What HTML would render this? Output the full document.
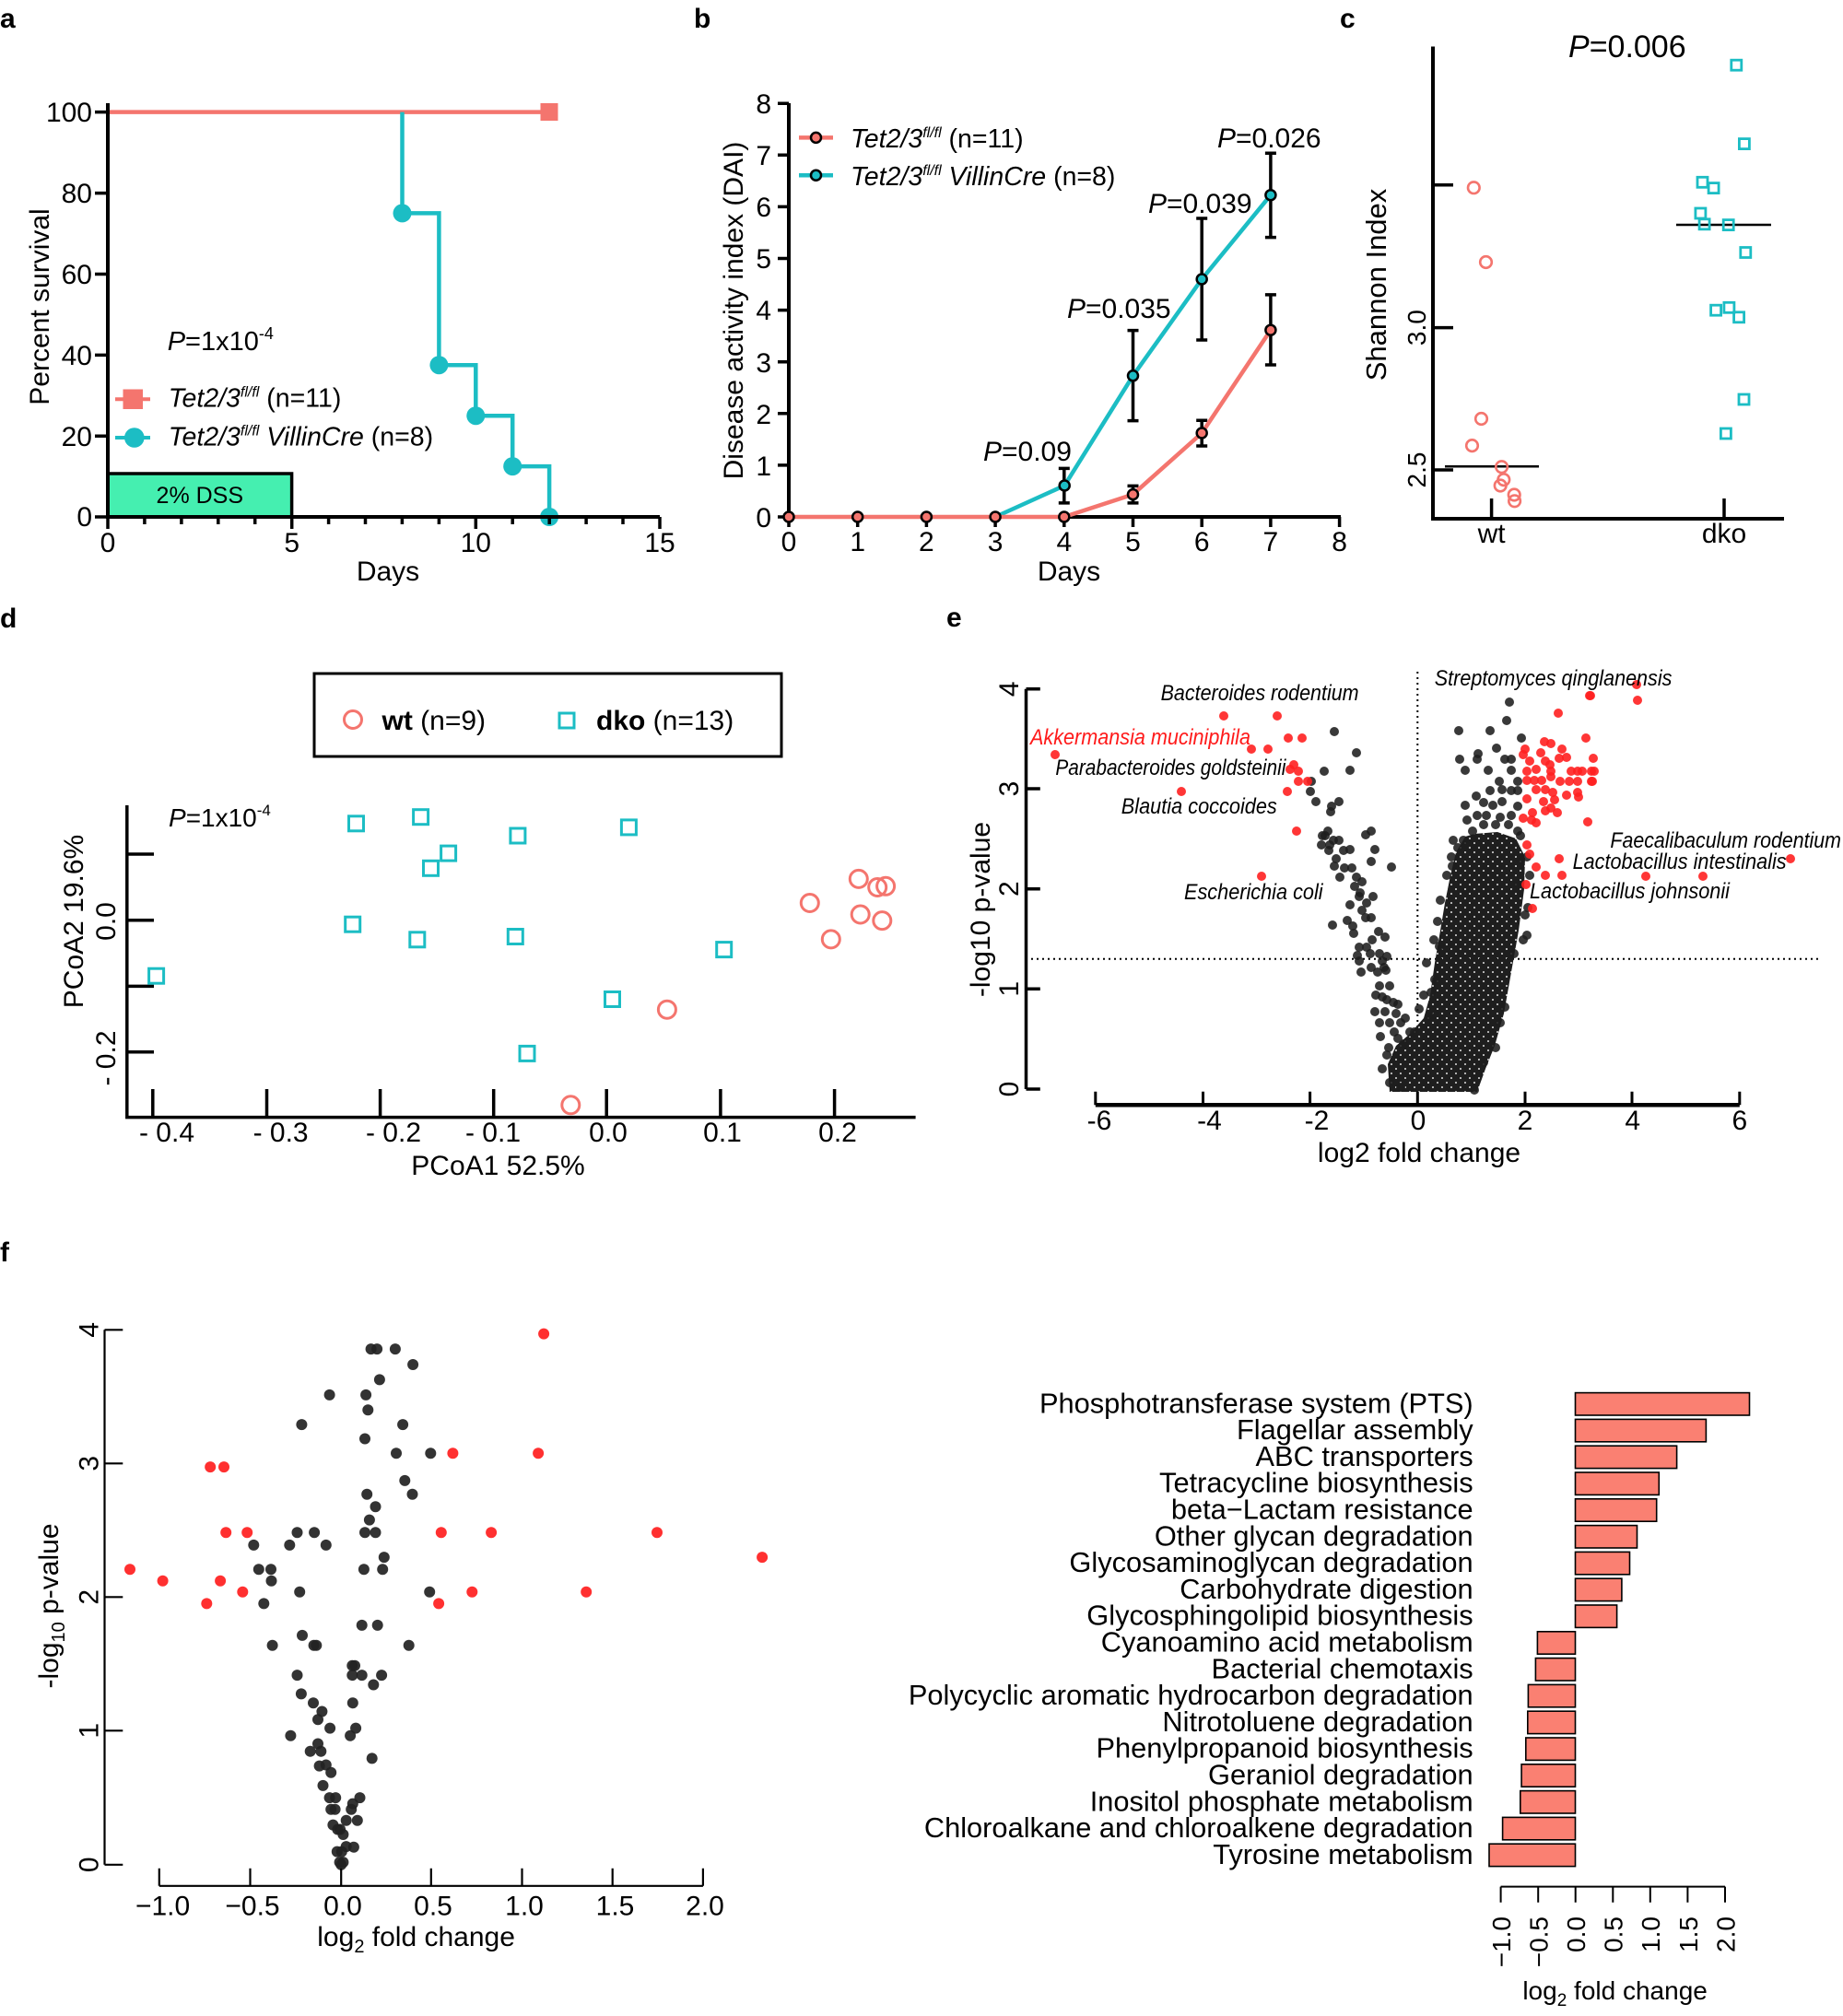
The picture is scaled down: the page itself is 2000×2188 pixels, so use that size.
<!DOCTYPE html>
<html><head><meta charset="utf-8"><style>
html,body{margin:0;padding:0;background:#fff;}
svg{display:block;font-family:"Liberation Sans",Arial,sans-serif;}
</style></head><body>
<svg width="2000" height="2188" viewBox="0 0 2000 2188" xmlns="http://www.w3.org/2000/svg">
<defs>
<pattern id="dp" width="10" height="10" patternUnits="userSpaceOnUse">
<circle cx="5" cy="5" r="4.3" fill="#1e1e1e"/>
<circle cx="0" cy="0" r="4.3" fill="#1e1e1e"/><circle cx="10" cy="0" r="4.3" fill="#1e1e1e"/>
<circle cx="0" cy="10" r="4.3" fill="#1e1e1e"/><circle cx="10" cy="10" r="4.3" fill="#1e1e1e"/>
</pattern>
</defs>
<rect width="2000" height="2188" fill="#fff"/>

<!-- ================= PANEL A ================= -->
<text x="0" y="30" font-size="30" font-weight="bold">a</text>
<rect x="117" y="514" width="199.6" height="47" fill="#45EFB0" stroke="#000" stroke-width="3.5"/>
<text x="216.8" y="546" font-size="25" text-anchor="middle">2% DSS</text>
<line x1="117" y1="121.6" x2="596" y2="121.6" stroke="#F4756E" stroke-width="4.5"/>
<rect x="586.5" y="112" width="19" height="19" fill="#F4756E"/>
<path d="M436.5 121.6V231.4H476.4V396.2H516.3V451.2H556.2V506.1H596.1V561" fill="none" stroke="#1CBDC4" stroke-width="4.5"/>
<g fill="#1CBDC4">
<circle cx="436.5" cy="231.4" r="10"/><circle cx="476.4" cy="396.2" r="10"/><circle cx="516.3" cy="451.2" r="10"/><circle cx="556.2" cy="506.1" r="10"/><circle cx="596.1" cy="561" r="10"/>
</g>
<path d="M117 112V561H716" fill="none" stroke="#000" stroke-width="4"/>
<path d="M103 121.6H117M103 209.6H117M103 297.5H117M103 385.4H117M103 473.3H117M103 561H117" stroke="#000" stroke-width="3.5"/>
<path d="M117 561V574M156.9 561V569M196.9 561V569M236.8 561V569M276.7 561V569M316.7 561V574M356.6 561V569M396.5 561V569M436.4 561V569M476.4 561V569M516.3 561V574M556.2 561V569M596.2 561V569M636.1 561V569M676 561V569M716 561V574" stroke="#000" stroke-width="3.5"/>
<g font-size="30" text-anchor="end">
<text x="100" y="132">100</text><text x="100" y="220">80</text><text x="100" y="308">60</text><text x="100" y="396">40</text><text x="100" y="484">20</text><text x="100" y="571">0</text>
</g>
<g font-size="30" text-anchor="middle">
<text x="117" y="599">0</text><text x="316.7" y="599">5</text><text x="516.3" y="599">10</text><text x="716" y="599">15</text>
<text x="421" y="630">Days</text>
<text transform="translate(53,333) rotate(-90)">Percent survival</text>
</g>
<text x="181.7" y="380" font-size="29"><tspan font-style="italic">P</tspan>=1x10<tspan font-size="18" dy="-12">-4</tspan></text>
<line x1="125" y1="433.3" x2="163" y2="433.3" stroke="#F4756E" stroke-width="4"/>
<rect x="133.5" y="422.5" width="21.5" height="21.5" fill="#F4756E"/>
<text x="182.7" y="441.7" font-size="28.5"><tspan font-style="italic">Tet2/3</tspan><tspan font-size="16" font-style="italic" dy="-11">fl/fl</tspan><tspan dy="11"> (n=11)</tspan></text>
<line x1="125" y1="475" x2="163" y2="475" stroke="#1CBDC4" stroke-width="4"/>
<circle cx="145.8" cy="475" r="10.8" fill="#1CBDC4"/>
<text x="182.7" y="483.3" font-size="28.5"><tspan font-style="italic">Tet2/3</tspan><tspan font-size="16" font-style="italic" dy="-11">fl/fl</tspan><tspan dy="11" font-style="italic"> VillinCre</tspan><tspan> (n=8)</tspan></text>

<!-- ================= PANEL B ================= -->
<text x="753" y="30" font-size="30" font-weight="bold">b</text>
<path d="M856 112V561H1455" fill="none" stroke="#000" stroke-width="4"/>
<path d="M844 561H856M844 504.9H856M844 448.8H856M844 392.7H856M844 336.6H856M844 280.5H856M844 224.4H856M844 168.3H856M844 112.2H856" stroke="#000" stroke-width="3.5"/>
<path d="M856 561V572M930.7 561V572M1005.4 561V572M1080.1 561V572M1154.8 561V572M1229.5 561V572M1304.2 561V572M1378.9 561V572M1453.6 561V572" stroke="#000" stroke-width="3.5"/>
<g font-size="30" text-anchor="end">
<text x="837" y="572">0</text><text x="837" y="516">1</text><text x="837" y="460">2</text><text x="837" y="404">3</text><text x="837" y="347">4</text><text x="837" y="291">5</text><text x="837" y="235">6</text><text x="837" y="179">7</text><text x="837" y="123">8</text>
</g>
<g font-size="30" text-anchor="middle">
<text x="856" y="598">0</text><text x="930.7" y="598">1</text><text x="1005.4" y="598">2</text><text x="1080.1" y="598">3</text><text x="1154.8" y="598">4</text><text x="1229.5" y="598">5</text><text x="1304.2" y="598">6</text><text x="1378.9" y="598">7</text><text x="1453.6" y="598">8</text>
<text x="1160" y="630">Days</text>
<text transform="translate(806,337) rotate(-90)">Disease activity index (DAI)</text>
</g>
<path d="M1154.8 508.4V545.9M1148.8 508.4H1160.8M1148.8 545.9H1160.8
M1229.5 358.6V456.6M1223.5 358.6H1235.5M1223.5 456.6H1235.5
M1304.2 237V369M1298.2 237H1310.2M1298.2 369H1310.2
M1378.9 166.2V257.6M1372.9 166.2H1384.9M1372.9 257.6H1384.9
M1229.5 527.4V545.9M1223.5 527.4H1235.5M1223.5 545.9H1235.5
M1304.2 456.2V484M1298.2 456.2H1310.2M1298.2 484H1310.2
M1378.9 319.9V396M1372.9 319.9H1384.9M1372.9 396H1384.9" stroke="#000" stroke-width="3.5" fill="none"/>
<polyline points="1080.1,561 1155.2,527 1229.5,407.8 1304.2,303 1378.9,211.7" fill="none" stroke="#1CBDC4" stroke-width="4.5"/>
<polyline points="856,561 1154.8,561 1229.5,536.6 1304.2,470 1378.9,358.2" fill="none" stroke="#F4756E" stroke-width="4.5"/>
<g stroke="#000" stroke-width="2.5" fill="#1CBDC4">
<circle cx="1155.2" cy="527" r="5.5"/><circle cx="1229.5" cy="407.8" r="5.5"/><circle cx="1304.2" cy="303" r="5.5"/><circle cx="1378.9" cy="211.7" r="5.5"/>
</g>
<g stroke="#000" stroke-width="2.5" fill="#F4756E">
<circle cx="856" cy="561" r="5.5"/><circle cx="930.7" cy="561" r="5.5"/><circle cx="1005.4" cy="561" r="5.5"/><circle cx="1080.1" cy="561" r="5.5"/><circle cx="1154.8" cy="561" r="5.5"/><circle cx="1229.5" cy="536.6" r="5.5"/><circle cx="1304.2" cy="470" r="5.5"/><circle cx="1378.9" cy="358.2" r="5.5"/>
</g>
<line x1="867" y1="149.4" x2="904" y2="149.4" stroke="#F4756E" stroke-width="4.5"/>
<circle cx="885.5" cy="149.4" r="5.5" fill="#F4756E" stroke="#000" stroke-width="2.5"/>
<line x1="867" y1="190.2" x2="904" y2="190.2" stroke="#1CBDC4" stroke-width="4.5"/>
<circle cx="885.5" cy="190.2" r="5.5" fill="#1CBDC4" stroke="#000" stroke-width="2.5"/>
<text x="923" y="160" font-size="28.5"><tspan font-style="italic">Tet2/3</tspan><tspan font-size="16" font-style="italic" dy="-11">fl/fl</tspan><tspan dy="11"> (n=11)</tspan></text>
<text x="923" y="201" font-size="28.5"><tspan font-style="italic">Tet2/3</tspan><tspan font-size="16" font-style="italic" dy="-11">fl/fl</tspan><tspan dy="11" font-style="italic"> VillinCre</tspan><tspan> (n=8)</tspan></text>
<g font-size="30">
<text x="1067" y="500"><tspan font-style="italic">P</tspan>=0.09</text>
<text x="1158" y="345"><tspan font-style="italic">P</tspan>=0.035</text>
<text x="1246" y="231"><tspan font-style="italic">P</tspan>=0.039</text>
<text x="1321" y="160"><tspan font-style="italic">P</tspan>=0.026</text>
</g>

<!-- ================= PANEL C ================= -->
<text x="1454" y="30" font-size="30" font-weight="bold">c</text>
<text x="1702" y="62" font-size="34"><tspan font-style="italic">P</tspan>=0.006</text>
<path d="M1555 50.5V563H1936" fill="none" stroke="#000" stroke-width="4"/>
<path d="M1555 200.8H1577M1555 355.6H1577M1555 510H1577M1618.6 541V563M1871 541V563" stroke="#000" stroke-width="3.5"/>
<g font-size="28" text-anchor="middle">
<text transform="translate(1547,355.6) rotate(-90)">3.0</text>
<text transform="translate(1547,510) rotate(-90)">2.5</text>
</g>
<g font-size="30" text-anchor="middle">
<text x="1618.6" y="589">wt</text><text x="1871" y="589">dko</text>
<text transform="translate(1504,309) rotate(-90)" font-size="31">Shannon Index</text>
</g>
<path d="M1568 506.3H1670M1819 244H1922" stroke="#000" stroke-width="2.5"/>
<g fill="none" stroke="#F4756E" stroke-width="2.6">
<circle cx="1599.3" cy="203.7" r="6.3"/><circle cx="1612.5" cy="284.5" r="6.3"/><circle cx="1607.5" cy="454.5" r="6.3"/><circle cx="1597.5" cy="483.6" r="6.3"/><circle cx="1629.6" cy="506.7" r="6.3"/><circle cx="1631.8" cy="520.6" r="6.3"/><circle cx="1628.2" cy="527" r="6.3"/><circle cx="1643.2" cy="537" r="6.3"/><circle cx="1643.6" cy="543.8" r="6.3"/>
</g>
<g fill="none" stroke="#1CBDC4" stroke-width="2.8">
<rect x="1878.8" y="65.2" width="11" height="11"/><rect x="1887.4" y="150.6" width="11" height="11"/><rect x="1842" y="192.3" width="11" height="11"/><rect x="1854.1" y="198.6" width="11" height="11"/><rect x="1839.9" y="226" width="11" height="11"/><rect x="1844.1" y="237.8" width="11" height="11"/><rect x="1870.2" y="238.6" width="11" height="11"/><rect x="1888.8" y="268.5" width="11" height="11"/><rect x="1856.6" y="331.2" width="11" height="11"/><rect x="1870.9" y="328.3" width="11" height="11"/><rect x="1881.6" y="338.8" width="11" height="11"/><rect x="1887" y="428" width="11" height="11"/><rect x="1867.4" y="465" width="11" height="11"/>
</g>

<!-- ================= PANEL D ================= -->
<text x="0" y="681" font-size="30" font-weight="bold">d</text>
<rect x="341" y="731" width="507" height="90" fill="none" stroke="#000" stroke-width="3"/>
<circle cx="383" cy="781" r="9.5" fill="none" stroke="#F4756E" stroke-width="3"/>
<text x="414.5" y="792" font-size="30"><tspan font-weight="bold">wt</tspan> (n=9)</text>
<rect x="607" y="774" width="16" height="16" fill="none" stroke="#1CBDC4" stroke-width="3"/>
<text x="647" y="792" font-size="30"><tspan font-weight="bold">dko</tspan> (n=13)</text>
<path d="M137.8 874V1212.6H993.6" fill="none" stroke="#000" stroke-width="3.5"/>
<path d="M137.8 927H167M137.8 998.7H167M137.8 1070.4H167M137.8 1141.7H167" stroke="#000" stroke-width="3.5"/>
<path d="M165.8 1182V1212.6M289.5 1182V1212.6M412.6 1182V1212.6M535.7 1182V1212.6M658.2 1182V1212.6M781.9 1182V1212.6M905.6 1182V1212.6" stroke="#000" stroke-width="3.5"/>
<g font-size="30" text-anchor="middle">
<text transform="translate(125,1000) rotate(-90)">0.0</text>
<text transform="translate(125,1148.5) rotate(-90)">- 0.2</text>
<text transform="translate(90,1000) rotate(-90)">PCoA2 19.6%</text>
<text x="181" y="1239">- 0.4</text><text x="304.6" y="1239">- 0.3</text><text x="427" y="1239">- 0.2</text><text x="535" y="1239">- 0.1</text><text x="660" y="1239">0.0</text><text x="784" y="1239">0.1</text><text x="909" y="1239">0.2</text>
<text x="540.5" y="1275">PCoA1 52.5%</text>
</g>
<text x="183" y="897" font-size="28"><tspan font-style="italic">P</tspan>=1x10<tspan font-size="17" dy="-12">-4</tspan></text>
<g fill="none" stroke="#F4756E" stroke-width="3">
<circle cx="931.8" cy="953.9" r="9.5"/><circle cx="952.2" cy="963" r="9.5"/><circle cx="961.1" cy="961.8" r="9.5"/><circle cx="878.8" cy="980" r="9.5"/><circle cx="933.7" cy="992.5" r="9.5"/><circle cx="957.3" cy="999.1" r="9.5"/><circle cx="901.8" cy="1019.4" r="9.5"/><circle cx="723.9" cy="1095.7" r="9.5"/><circle cx="619.3" cy="1199.3" r="9.5"/>
</g>
<g fill="none" stroke="#1CBDC4" stroke-width="3">
<rect x="378.5" y="885.8" width="16" height="16"/><rect x="448.6" y="878.7" width="16" height="16"/><rect x="553.9" y="899" width="16" height="16"/><rect x="674.4" y="889.9" width="16" height="16"/><rect x="478.6" y="918.1" width="16" height="16"/><rect x="459.5" y="934.3" width="16" height="16"/><rect x="374.7" y="995.2" width="16" height="16"/><rect x="444.8" y="1011.8" width="16" height="16"/><rect x="551.3" y="1008.5" width="16" height="16"/><rect x="777.7" y="1022.6" width="16" height="16"/><rect x="161.6" y="1051.2" width="16" height="16"/><rect x="656.5" y="1076.5" width="16" height="16"/><rect x="564" y="1135.4" width="16" height="16"/>
</g>

<!-- ================= PANEL E ================= -->
<text x="1027" y="680" font-size="30" font-weight="bold">e</text>
<path d="M1538.3 729V1182M1119 1040.7H1976" stroke="#000" stroke-width="2" stroke-dasharray="2 4" fill="none"/>
<polygon points="1600,905 1590,908 1580,925 1574,950 1568,980 1563,1010 1557,1045 1552,1080 1545,1105 1530,1122 1515,1135 1506,1155 1508,1185 1603,1185 1612,1160 1622,1135 1632,1100 1640,1055 1648,1010 1654,965 1655,930 1645,910 1625,903" fill="url(#dp)"/>
<g fill="#1e1e1e" fill-opacity="0.88">
<circle cx="1448" cy="794" r="5"/><circle cx="1472" cy="817" r="5"/><circle cx="1465" cy="836" r="5"/><circle cx="1437" cy="837" r="5"/><circle cx="1423" cy="848" r="5"/><circle cx="1422" cy="859" r="5"/><circle cx="1428" cy="870" r="5"/><circle cx="1453" cy="870" r="5"/><circle cx="1445" cy="875" r="5"/><circle cx="1444" cy="881" r="5"/><circle cx="1441" cy="902" r="5"/><circle cx="1435" cy="907" r="5"/><circle cx="1438" cy="907" r="5"/><circle cx="1434" cy="917" r="5"/><circle cx="1443" cy="917" r="5"/><circle cx="1447" cy="912" r="5"/><circle cx="1453" cy="912" r="5"/><circle cx="1442" cy="923" r="5"/><circle cx="1458" cy="923" r="5"/><circle cx="1465" cy="922" r="5"/><circle cx="1450" cy="932" r="5"/><circle cx="1448" cy="940" r="5"/><circle cx="1459" cy="942" r="5"/><circle cx="1467" cy="942" r="5"/><circle cx="1454" cy="952" r="5"/><circle cx="1472" cy="952" r="5"/><circle cx="1478" cy="957" r="5"/><circle cx="1470" cy="962" r="5"/><circle cx="1476" cy="969" r="5"/><circle cx="1488" cy="902" r="5"/><circle cx="1482" cy="906" r="5"/><circle cx="1492" cy="922" r="5"/><circle cx="1488" cy="935" r="5"/><circle cx="1510" cy="941" r="5"/><circle cx="1465" cy="982" r="5"/><circle cx="1475" cy="973" r="5"/><circle cx="1483" cy="980" r="5"/><circle cx="1490" cy="973" r="5"/><circle cx="1478" cy="988" r="5"/><circle cx="1482" cy="996" r="5"/><circle cx="1488" cy="996" r="5"/><circle cx="1462" cy="999" r="5"/><circle cx="1468" cy="1005" r="5"/><circle cx="1469" cy="1013" r="5"/><circle cx="1446" cy="1004" r="5"/><circle cx="1496" cy="1011" r="5"/><circle cx="1503" cy="1017" r="5"/><circle cx="1489" cy="1020" r="5"/><circle cx="1475" cy="1028" r="5"/><circle cx="1483" cy="1028" r="5"/><circle cx="1473" cy="1037" r="5"/><circle cx="1487" cy="1035" r="5"/><circle cx="1497" cy="1035" r="5"/><circle cx="1505" cy="1038" r="5"/><circle cx="1475" cy="1043" r="5"/><circle cx="1500" cy="1043" r="5"/><circle cx="1502" cy="1050" r="5"/><circle cx="1488" cy="1050" r="5"/><circle cx="1477" cy="1055" r="5"/><circle cx="1495" cy="1055" r="5"/><circle cx="1504" cy="1053" r="5"/><circle cx="1497" cy="1070" r="5"/><circle cx="1508" cy="1070" r="5"/><circle cx="1493" cy="1080" r="5"/><circle cx="1500" cy="1082" r="5"/><circle cx="1505" cy="1085" r="5"/><circle cx="1512" cy="1088" r="5"/><circle cx="1517" cy="1090" r="5"/><circle cx="1492" cy="1098" r="5"/><circle cx="1503" cy="1098" r="5"/><circle cx="1497" cy="1110" r="5"/><circle cx="1508" cy="1110" r="5"/><circle cx="1520" cy="1110" r="5"/><circle cx="1513" cy="1120" r="5"/><circle cx="1517" cy="1127" r="5"/><circle cx="1507" cy="1137" r="5"/><circle cx="1523" cy="1133" r="5"/><circle cx="1505" cy="1145" r="5"/><circle cx="1515" cy="1100" r="5"/><circle cx="1525" cy="1105" r="5"/><circle cx="1530" cy="1120" r="5"/><circle cx="1498" cy="1125" r="5"/><circle cx="1500" cy="1160" r="5"/><circle cx="1508" cy="1175" r="5"/><circle cx="1520" cy="1180" r="5"/>
<circle cx="1638" cy="762" r="5"/><circle cx="1635" cy="782" r="5"/><circle cx="1583" cy="793" r="5"/><circle cx="1617" cy="793" r="5"/><circle cx="1651" cy="801" r="5"/><circle cx="1624" cy="812" r="5"/><circle cx="1584" cy="824" r="5"/><circle cx="1604" cy="818" r="5"/><circle cx="1603" cy="824" r="5"/><circle cx="1633" cy="824" r="5"/><circle cx="1640" cy="824" r="5"/><circle cx="1590" cy="836" r="5"/><circle cx="1615" cy="836" r="5"/><circle cx="1640" cy="836" r="5"/><circle cx="1647" cy="848" r="5"/><circle cx="1627" cy="848" r="5"/><circle cx="1630" cy="857" r="5"/><circle cx="1617" cy="858" r="5"/><circle cx="1602" cy="864" r="5"/><circle cx="1590" cy="874" r="5"/><circle cx="1610" cy="871" r="5"/><circle cx="1620" cy="874" r="5"/><circle cx="1630" cy="870" r="5"/><circle cx="1640" cy="858" r="5"/><circle cx="1647" cy="858" r="5"/><circle cx="1603" cy="885" r="5"/><circle cx="1613" cy="885" r="5"/><circle cx="1640" cy="885" r="5"/><circle cx="1647" cy="875" r="5"/><circle cx="1598" cy="902" r="5"/><circle cx="1610" cy="895" r="5"/><circle cx="1623" cy="895" r="5"/><circle cx="1637" cy="895" r="5"/><circle cx="1647" cy="902" r="5"/><circle cx="1577" cy="912" r="5"/><circle cx="1588" cy="912" r="5"/><circle cx="1582" cy="920" r="5"/><circle cx="1650" cy="907" r="5"/><circle cx="1592" cy="890" r="5"/><circle cx="1628" cy="887" r="5"/><circle cx="1576" cy="940" r="5"/>
<circle cx="1563" cy="977" r="5"/><circle cx="1562" cy="1027" r="5"/><circle cx="1557" cy="1063" r="5"/><circle cx="1553" cy="1077" r="5"/><circle cx="1552" cy="1103" r="5"/><circle cx="1548" cy="1045" r="5"/><circle cx="1545" cy="1080" r="5"/><circle cx="1540" cy="1095" r="5"/><circle cx="1535" cy="1120" r="5"/><circle cx="1575" cy="930" r="5"/><circle cx="1570" cy="950" r="5"/><circle cx="1560" cy="1000" r="5"/><circle cx="1556" cy="1020" r="5"/>
<circle cx="1653" cy="1020" r="5"/><circle cx="1643" cy="1035" r="5"/><circle cx="1633" cy="1093" r="5"/><circle cx="1623" cy="1137" r="5"/><circle cx="1610" cy="1153" r="5"/><circle cx="1600" cy="1183" r="5"/><circle cx="1655" cy="993" r="5"/><circle cx="1647" cy="960" r="5"/><circle cx="1650" cy="933" r="5"/><circle cx="1657" cy="1015" r="5"/><circle cx="1658" cy="985" r="5"/><circle cx="1628" cy="1110" r="5"/><circle cx="1660" cy="950" r="5"/><circle cx="1657" cy="930" r="5"/>
</g>
<g fill="#FF2020" fill-opacity="0.9">
<circle cx="1328" cy="777" r="5"/><circle cx="1386" cy="777" r="5"/><circle cx="1398" cy="801" r="5"/><circle cx="1413" cy="801" r="5"/><circle cx="1358" cy="813" r="5"/><circle cx="1376" cy="813" r="5"/><circle cx="1145" cy="819" r="5"/><circle cx="1404" cy="830" r="5"/><circle cx="1400" cy="835" r="5"/><circle cx="1409" cy="837" r="5"/><circle cx="1409" cy="848" r="5"/><circle cx="1419" cy="848" r="5"/><circle cx="1397" cy="859" r="5"/><circle cx="1282" cy="859" r="5"/><circle cx="1407" cy="902" r="5"/><circle cx="1369" cy="951" r="5"/>
<circle cx="1725" cy="755" r="5"/><circle cx="1691" cy="774" r="5"/><circle cx="1721" cy="801" r="5"/><circle cx="1655" cy="813" r="5"/><circle cx="1676" cy="805" r="5"/><circle cx="1683" cy="807" r="5"/><circle cx="1695" cy="813" r="5"/><circle cx="1653" cy="819" r="5"/><circle cx="1672" cy="817" r="5"/><circle cx="1692" cy="823" r="5"/><circle cx="1700" cy="822" r="5"/><circle cx="1660" cy="826" r="5"/><circle cx="1677" cy="826" r="5"/><circle cx="1682" cy="830" r="5"/><circle cx="1657" cy="837" r="5"/><circle cx="1667" cy="835" r="5"/><circle cx="1683" cy="837" r="5"/><circle cx="1705" cy="837" r="5"/><circle cx="1712" cy="837" r="5"/><circle cx="1717" cy="837" r="5"/><circle cx="1727" cy="837" r="5"/><circle cx="1657" cy="847" r="5"/><circle cx="1665" cy="847" r="5"/><circle cx="1673" cy="847" r="5"/><circle cx="1683" cy="843" r="5"/><circle cx="1693" cy="848" r="5"/><circle cx="1703" cy="848" r="5"/><circle cx="1712" cy="848" r="5"/><circle cx="1727" cy="848" r="5"/><circle cx="1667" cy="857" r="5"/><circle cx="1677" cy="857" r="5"/><circle cx="1685" cy="860" r="5"/><circle cx="1700" cy="863" r="5"/><circle cx="1712" cy="860" r="5"/><circle cx="1713" cy="865" r="5"/><circle cx="1657" cy="867" r="5"/><circle cx="1675" cy="870" r="5"/><circle cx="1687" cy="868" r="5"/><circle cx="1683" cy="877" r="5"/><circle cx="1677" cy="880" r="5"/><circle cx="1690" cy="882" r="5"/><circle cx="1663" cy="882" r="5"/><circle cx="1653" cy="888" r="5"/><circle cx="1662" cy="890" r="5"/><circle cx="1667" cy="893" r="5"/><circle cx="1723" cy="892" r="5"/><circle cx="1657" cy="917" r="5"/><circle cx="1660" cy="927" r="5"/><circle cx="1692" cy="932" r="5"/><circle cx="1667" cy="941" r="5"/><circle cx="1677" cy="950" r="5"/><circle cx="1695" cy="950" r="5"/>
<circle cx="1776" cy="743" r="5"/><circle cx="1777" cy="760" r="5"/><circle cx="1726" cy="755" r="5"/><circle cx="1786" cy="951" r="5"/><circle cx="1848" cy="951" r="5"/><circle cx="1943" cy="932" r="5"/><circle cx="1656" cy="960" r="5"/><circle cx="1663" cy="986" r="5"/><circle cx="1729" cy="823" r="5"/><circle cx="1730" cy="837" r="5"/><circle cx="1728" cy="848" r="5"/>
</g>
<path d="M1113.5 747.8V1182" stroke="#000" stroke-width="3.5"/>
<path d="M1113.5 747.8H1128.8M1113.5 856H1128.8M1113.5 964.7H1128.8M1113.5 1073.3H1128.8M1113.5 1182H1128.8" stroke="#000" stroke-width="3.5"/>
<path d="M1188.8 1199.3H1887.8" stroke="#000" stroke-width="4.5"/>
<path d="M1188.8 1184.8V1199.3M1305.5 1184.8V1199.3M1421.6 1184.8V1199.3M1538.3 1184.8V1199.3M1655 1184.8V1199.3M1771 1184.8V1199.3M1887.8 1184.8V1199.3" stroke="#000" stroke-width="3"/>
<g font-size="30" text-anchor="middle">
<text transform="translate(1105,1182) rotate(-90)">0</text>
<text transform="translate(1105,1073.3) rotate(-90)">1</text>
<text transform="translate(1105,964.7) rotate(-90)">2</text>
<text transform="translate(1105,856) rotate(-90)">3</text>
<text transform="translate(1105,747.8) rotate(-90)">4</text>
<text transform="translate(1074,987) rotate(-90)">-log10 p-value</text>
<text x="1193" y="1226">-6</text><text x="1312.5" y="1226">-4</text><text x="1429" y="1226">-2</text><text x="1539" y="1226">0</text><text x="1655" y="1226">2</text><text x="1771.7" y="1226">4</text><text x="1887.8" y="1226">6</text>
<text x="1540" y="1261">log2 fold change</text>
</g>
<g font-size="24" font-style="italic">
<text x="1259.6" y="760" textLength="215" lengthAdjust="spacingAndGlyphs">Bacteroides rodentium</text>
<text x="1118" y="808" textLength="239" lengthAdjust="spacingAndGlyphs" fill="#FF1A1A">Akkermansia muciniphila</text>
<text x="1145.4" y="841" textLength="250" lengthAdjust="spacingAndGlyphs">Parabacteroides goldsteinii</text>
<text x="1216.8" y="883" textLength="169" lengthAdjust="spacingAndGlyphs">Blautia coccoides</text>
<text x="1285" y="976" textLength="150.6" lengthAdjust="spacingAndGlyphs">Escherichia coli</text>
<text x="1556.8" y="744" textLength="257.6" lengthAdjust="spacingAndGlyphs">Streptomyces qinglanensis</text>
<text x="1747.4" y="920" textLength="250.6" lengthAdjust="spacingAndGlyphs">Faecalibaculum rodentium</text>
<text x="1706.6" y="943" textLength="232" lengthAdjust="spacingAndGlyphs">Lactobacillus intestinalis</text>
<text x="1660" y="975" textLength="217" lengthAdjust="spacingAndGlyphs">Lactobacillus johnsonii</text>
</g>

<!-- ================= PANEL F LEFT ================= -->
<text x="0" y="1369" font-size="30" font-weight="bold">f</text>
<g fill="#222" fill-opacity="0.92">
<circle cx="402.6" cy="1464.1" r="6"/><circle cx="409.1" cy="1464.1" r="6"/><circle cx="428.9" cy="1464.1" r="6"/><circle cx="448.1" cy="1481" r="6"/><circle cx="411.9" cy="1497.4" r="6"/><circle cx="357.6" cy="1513.9" r="6"/><circle cx="397.1" cy="1513.9" r="6"/><circle cx="399.3" cy="1530.3" r="6"/><circle cx="327.4" cy="1546.1" r="6"/><circle cx="437.1" cy="1546.1" r="6"/><circle cx="396" cy="1561.5" r="6"/><circle cx="430" cy="1577.3" r="6"/><circle cx="467.3" cy="1577.3" r="6"/><circle cx="439.3" cy="1606.9" r="6"/><circle cx="398.2" cy="1621.7" r="6"/><circle cx="447.5" cy="1621.7" r="6"/><circle cx="407.5" cy="1635.3" r="6"/><circle cx="400.9" cy="1649.6" r="6"/><circle cx="322.5" cy="1663.2" r="6"/><circle cx="341.1" cy="1663.2" r="6"/><circle cx="396" cy="1663.2" r="6"/><circle cx="407.5" cy="1663.2" r="6"/><circle cx="314.3" cy="1676.9" r="6"/><circle cx="353.8" cy="1676.9" r="6"/><circle cx="275.3" cy="1676.9" r="6"/><circle cx="416.8" cy="1690.1" r="6"/><circle cx="280.8" cy="1703.2" r="6"/><circle cx="294" cy="1703.2" r="6"/><circle cx="394.9" cy="1703.2" r="6"/><circle cx="415.2" cy="1703.2" r="6"/><circle cx="294.5" cy="1715.8" r="6"/><circle cx="325.2" cy="1727.8" r="6"/><circle cx="466.2" cy="1727.8" r="6"/><circle cx="286.3" cy="1740.4" r="6"/><circle cx="392.7" cy="1763.9" r="6"/><circle cx="409.7" cy="1763.9" r="6"/><circle cx="328" cy="1774.9" r="6"/><circle cx="340.6" cy="1785.8" r="6"/><circle cx="343.3" cy="1785.8" r="6"/><circle cx="295.6" cy="1785.8" r="6"/><circle cx="443.7" cy="1785.8" r="6"/><circle cx="385" cy="1807.7" r="6"/><circle cx="382.3" cy="1807.7" r="6"/><circle cx="382.3" cy="1818.1" r="6"/><circle cx="392.7" cy="1818.1" r="6"/><circle cx="414.1" cy="1818.1" r="6"/><circle cx="322.5" cy="1818.1" r="6"/><circle cx="405.3" cy="1828.5" r="6"/><circle cx="326.9" cy="1838.4" r="6"/><circle cx="340" cy="1848.2" r="6"/><circle cx="382.8" cy="1848.2" r="6"/><circle cx="349.4" cy="1857.5" r="6"/><circle cx="345" cy="1866.3" r="6"/><circle cx="358.1" cy="1875.6" r="6"/><circle cx="386.1" cy="1875.6" r="6"/><circle cx="315.4" cy="1883.8" r="6"/><circle cx="380.1" cy="1883.8" r="6"/><circle cx="345" cy="1892.5" r="6"/><circle cx="336.7" cy="1900.7" r="6"/><circle cx="348.3" cy="1900.7" r="6"/><circle cx="403.7" cy="1908.4" r="6"/><circle cx="353.8" cy="1915.5" r="6"/><circle cx="346.6" cy="1916.6" r="6"/><circle cx="359.2" cy="1923.7" r="6"/><circle cx="350.5" cy="1937.9" r="6"/><circle cx="357.6" cy="1951.1" r="6"/><circle cx="364.2" cy="1951.1" r="6"/><circle cx="390.5" cy="1951.1" r="6"/><circle cx="382.8" cy="1957.6" r="6"/><circle cx="359.2" cy="1963.7" r="6"/><circle cx="363.6" cy="1963.7" r="6"/><circle cx="381.2" cy="1963.7" r="6"/><circle cx="375.7" cy="1975.7" r="6"/><circle cx="387.8" cy="1975.7" r="6"/><circle cx="361.4" cy="1980.6" r="6"/><circle cx="366.4" cy="1985.5" r="6"/><circle cx="369.1" cy="1985.5" r="6"/><circle cx="372.4" cy="1991" r="6"/><circle cx="375.7" cy="2004.1" r="6"/><circle cx="383.9" cy="2004.7" r="6"/><circle cx="365.8" cy="2009.6" r="6"/><circle cx="370.8" cy="2009.6" r="6"/><circle cx="368.6" cy="2021.1" r="6"/><circle cx="372.4" cy="2021.1" r="6"/><circle cx="370.2" cy="2023.8" r="6"/>
</g>
<g fill="#FF3030">
<circle cx="590.1" cy="1447.6" r="6"/><circle cx="228.2" cy="1592.1" r="6"/><circle cx="243" cy="1592.1" r="6"/><circle cx="491.4" cy="1577.3" r="6"/><circle cx="584.1" cy="1577.3" r="6"/><circle cx="245.2" cy="1663.2" r="6"/><circle cx="268.2" cy="1663.2" r="6"/><circle cx="478.8" cy="1663.2" r="6"/><circle cx="533.1" cy="1663.2" r="6"/><circle cx="713" cy="1663.2" r="6"/><circle cx="827.1" cy="1690.1" r="6"/><circle cx="141" cy="1703.2" r="6"/><circle cx="176.6" cy="1715.8" r="6"/><circle cx="239.1" cy="1715.8" r="6"/><circle cx="263.3" cy="1727.8" r="6"/><circle cx="512.3" cy="1727.8" r="6"/><circle cx="636.2" cy="1727.8" r="6"/><circle cx="224.3" cy="1740.4" r="6"/><circle cx="476.1" cy="1740.4" r="6"/>
</g>
<path d="M113.5 1443.3V2023.8" stroke="#000" stroke-width="2.2"/>
<path d="M113.5 1443.3H133.3M113.5 1588.3H133.3M113.5 1733.3H133.3M113.5 1878.3H133.3M113.5 2023.8H133.3" stroke="#000" stroke-width="2.2"/>
<path d="M172.8 2046.8H762.9M172.8 2027.7V2046.8M271.5 2027.7V2046.8M370.2 2027.7V2046.8M467.8 2027.7V2046.8M566.5 2027.7V2046.8M664.7 2027.7V2046.8M762.9 2027.7V2046.8" stroke="#000" stroke-width="2.2" fill="none"/>
<g font-size="30" text-anchor="middle">
<text transform="translate(106.5,1443.3) rotate(-90)">4</text>
<text transform="translate(106.5,1588.3) rotate(-90)">3</text>
<text transform="translate(106.5,1733.3) rotate(-90)">2</text>
<text transform="translate(106.5,1878.3) rotate(-90)">1</text>
<text transform="translate(106.5,2023.8) rotate(-90)">0</text>
<text transform="translate(63,1743) rotate(-90)">-log<tspan font-size="20" dy="7">10</tspan><tspan dy="-7"> p-value</tspan></text>
<text x="176.6" y="2078.5">−1.0</text><text x="274" y="2078.5">−0.5</text><text x="372" y="2078.5">0.0</text><text x="470" y="2078.5">0.5</text><text x="569" y="2078.5">1.0</text><text x="667.5" y="2078.5">1.5</text><text x="765" y="2078.5">2.0</text>
<text x="451.6" y="2112">log<tspan font-size="20" dy="7">2</tspan><tspan dy="-7"> fold change</tspan></text>
</g>

<!-- ================= PANEL F RIGHT ================= -->
<g fill="#FA8072" stroke="#000" stroke-width="1.6">
<rect x="1709.5" y="1511.6" width="189" height="24.4"/>
<rect x="1709.5" y="1540.4" width="141.9" height="24.4"/>
<rect x="1709.5" y="1569.2" width="110.1" height="24.4"/>
<rect x="1709.5" y="1598" width="90.8" height="24.4"/>
<rect x="1709.5" y="1626.8" width="88.2" height="24.4"/>
<rect x="1709.5" y="1655.6" width="67" height="24.4"/>
<rect x="1709.5" y="1684.4" width="59" height="24.4"/>
<rect x="1709.5" y="1713.2" width="50.4" height="24.4"/>
<rect x="1709.5" y="1742" width="45.1" height="24.4"/>
<rect x="1668.4" y="1770.8" width="41.1" height="24.4"/>
<rect x="1666.4" y="1799.6" width="43.1" height="24.4"/>
<rect x="1658.4" y="1828.4" width="51.1" height="24.4"/>
<rect x="1657.8" y="1857.2" width="51.7" height="24.4"/>
<rect x="1655.8" y="1886" width="53.7" height="24.4"/>
<rect x="1651.1" y="1914.8" width="58.4" height="24.4"/>
<rect x="1649.8" y="1943.6" width="59.7" height="24.4"/>
<rect x="1630.6" y="1972.4" width="78.9" height="24.4"/>
<rect x="1616" y="2001.2" width="93.5" height="24.4"/>
</g>
<g font-size="30.8" text-anchor="end">
<text x="1598.7" y="1533.3">Phosphotransferase system (PTS)</text>
<text x="1598.7" y="1562.1">Flagellar assembly</text>
<text x="1598.7" y="1590.9">ABC transporters</text>
<text x="1598.7" y="1619.7">Tetracycline biosynthesis</text>
<text x="1598.7" y="1648.5">beta−Lactam resistance</text>
<text x="1598.7" y="1677.3">Other glycan degradation</text>
<text x="1598.7" y="1706.1">Glycosaminoglycan degradation</text>
<text x="1598.7" y="1734.9">Carbohydrate digestion</text>
<text x="1598.7" y="1763.7">Glycosphingolipid biosynthesis</text>
<text x="1598.7" y="1792.5">Cyanoamino acid metabolism</text>
<text x="1598.7" y="1821.3">Bacterial chemotaxis</text>
<text x="1598.7" y="1850.1">Polycyclic aromatic hydrocarbon degradation</text>
<text x="1598.7" y="1878.9">Nitrotoluene degradation</text>
<text x="1598.7" y="1907.7">Phenylpropanoid biosynthesis</text>
<text x="1598.7" y="1936.5">Geraniol degradation</text>
<text x="1598.7" y="1965.3">Inositol phosphate metabolism</text>
<text x="1598.7" y="1994.1">Chloroalkane and chloroalkene degradation</text>
<text x="1598.7" y="2022.9">Tyrosine metabolism</text>
</g>
<path d="M1628.6 2047.6H1872M1628.6 2047.6V2064.7M1669.2 2047.6V2064.7M1709.7 2047.6V2064.7M1750.3 2047.6V2064.7M1790.8 2047.6V2064.7M1831.4 2047.6V2064.7M1872 2047.6V2064.7" stroke="#000" stroke-width="2" fill="none"/>
<g font-size="28" text-anchor="end">
<text transform="translate(1639,2080) rotate(-90)">−1.0</text>
<text transform="translate(1679.6,2080) rotate(-90)">−0.5</text>
<text transform="translate(1720.1,2080) rotate(-90)">0.0</text>
<text transform="translate(1760.7,2080) rotate(-90)">0.5</text>
<text transform="translate(1801.2,2080) rotate(-90)">1.0</text>
<text transform="translate(1841.8,2080) rotate(-90)">1.5</text>
<text transform="translate(1882.4,2080) rotate(-90)">2.0</text>
</g>
<text x="1752.6" y="2170" font-size="28" text-anchor="middle">log<tspan font-size="19" dy="7">2</tspan><tspan dy="-7"> fold change</tspan></text>
</svg>
</body></html>
